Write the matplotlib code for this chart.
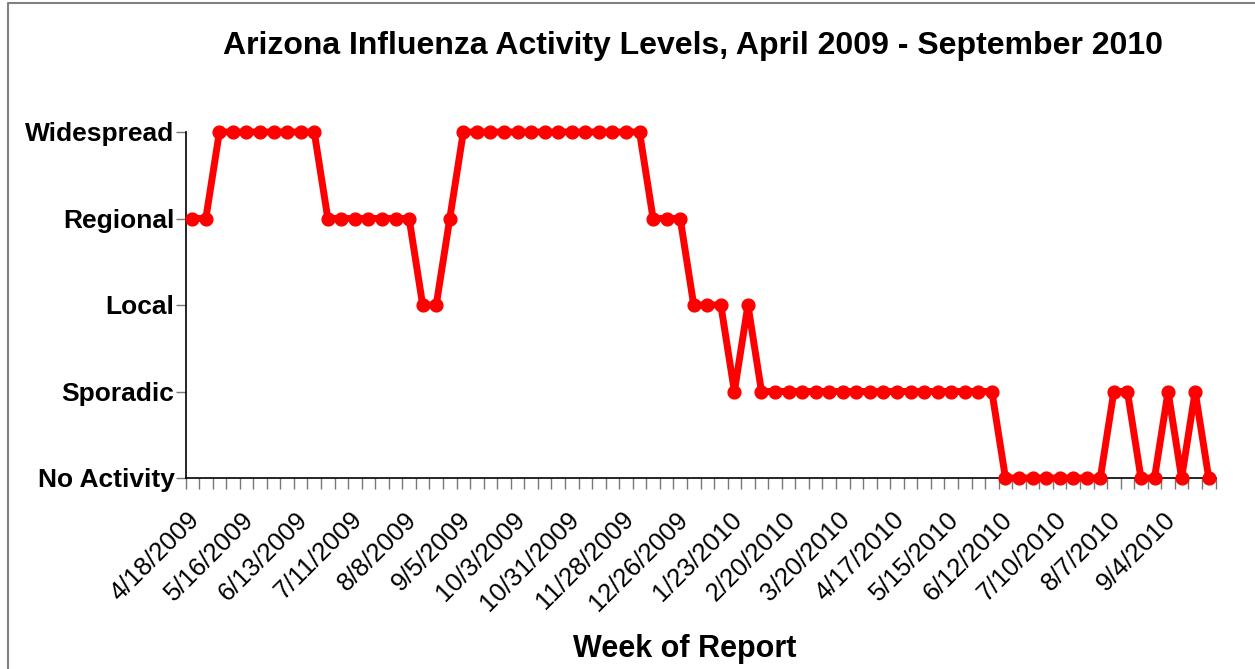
import matplotlib.pyplot as plt
from matplotlib.lines import Line2D
import matplotlib.transforms as mtransforms

plt.rcParams['font.family'] = ['Liberation Sans', 'DejaVu Sans']

# Activity levels: 0 = No Activity ... 4 = Widespread, one value per weekly report
levels = ["No Activity", "Sporadic", "Local", "Regional", "Widespread"]
activity = [3, 3, 4, 4, 4, 4, 4, 4, 4, 4,
            3, 3, 3, 3, 3, 3, 3, 2, 2, 3,
            4, 4, 4, 4, 4, 4, 4, 4, 4, 4,
            4, 4, 4, 4, 3, 3, 3, 2, 2, 2,
            1, 2, 1, 1, 1, 1, 1, 1, 1, 1,
            1, 1, 1, 1, 1, 1, 1, 1, 1, 1,
            0, 0, 0, 0, 0, 0, 0, 0, 1, 1,
            0, 0, 1, 0, 1, 0]
week_labels = ["4/18/2009", "5/16/2009", "6/13/2009", "7/11/2009", "8/8/2009",
               "9/5/2009", "10/3/2009", "10/31/2009", "11/28/2009", "12/26/2009",
               "1/23/2010", "2/20/2010", "3/20/2010", "4/17/2010", "5/15/2010",
               "6/12/2010", "7/10/2010", "8/7/2010", "9/4/2010"]

weeks = list(range(len(activity)))

fig = plt.figure(figsize=(12.55, 6.69), dpi=100)
ax = fig.add_axes([185.5 / 1255, 1 - 478 / 669, 1030 / 1255, 346 / 669])

ax.plot(weeks, activity, color='#ff0000', linewidth=5, marker='o',
        markersize=9.2, clip_on=False, zorder=3)

ax.set_xlim(-0.5, len(activity) - 0.5)
ax.set_ylim(0, 4)

# y axis: named levels
ax.set_yticks(range(len(levels)))
ax.set_yticklabels(levels, fontsize=19, fontweight='bold')
ax.tick_params(axis='y', length=7, width=1, color='#777777', pad=1)

# x axis: tick marks between weeks, labels every 4 weeks
ax.set_xticks([k - 0.5 for k in range(len(activity) + 1)])
ax.set_xticklabels([])
ax.tick_params(axis='x', which='major', length=8, width=1, color='#777777')
ax.set_xticks(weeks[::4], minor=True)
ax.set_xticklabels(week_labels, minor=True, rotation=45, ha='right', va='top',
                   rotation_mode='anchor', fontsize=18.5)
ax.tick_params(axis='x', which='minor', length=0, pad=21)
offset = mtransforms.ScaledTranslation(-5 / 100, 0, fig.dpi_scale_trans)
for lab in ax.get_xticklabels(minor=True):
    lab.set_transform(lab.get_transform() + offset)

for side in ['top', 'right']:
    ax.spines[side].set_visible(False)
for side in ['left', 'bottom']:
    ax.spines[side].set_linewidth(1.2)
    ax.spines[side].set_color('black')

fig.text(693 / 1255, 1 - 46 / 669,
         "Arizona Influenza Activity Levels, April 2009 - September 2010",
         ha='center', va='center', fontsize=23, fontweight='bold')
fig.text(685 / 1255, 1 - 649 / 669, "Week of Report",
         ha='center', va='center', fontsize=22, fontweight='bold')

# chart area border (top and left edges visible)
fig.add_artist(Line2D([8 / 1255, 8 / 1255, 1.0], [0.0, 1 - 3 / 669, 1 - 3 / 669],
                      transform=fig.transFigure, color='#808080', linewidth=1.5))

fig.savefig('out.png', dpi=100)
